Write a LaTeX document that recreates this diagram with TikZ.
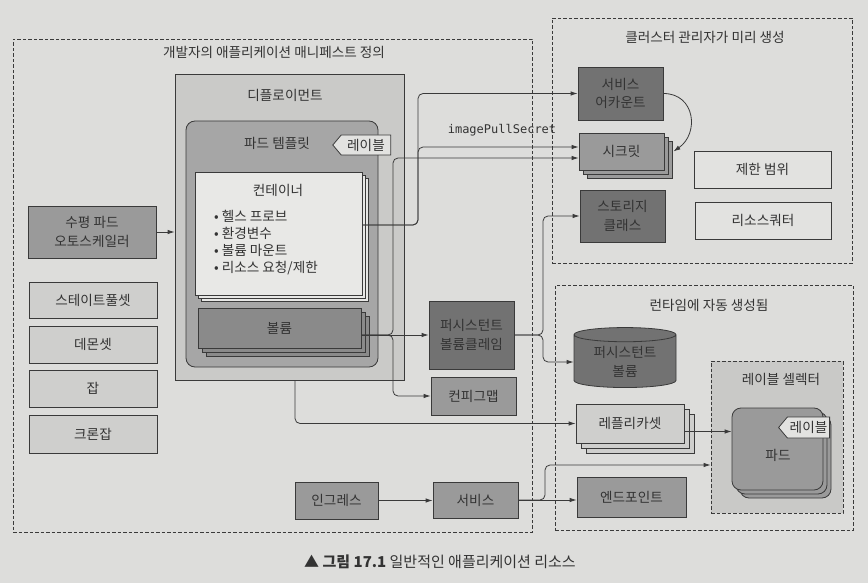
\documentclass[tikz,border=0pt]{standalone}
\usepackage{fontspec}
\setmainfont{Noto Sans CJK KR}
\newfontfamily\monof{DejaVu Sans Mono}
\usetikzlibrary{shapes.geometric,shapes.symbols,shadows,arrows.meta}
\definecolor{bg}{HTML}{DDDDDB}
\definecolor{ln}{HTML}{3A3A3A}
\definecolor{tx}{HTML}{333333}
\definecolor{dark}{HTML}{727272}
\definecolor{mid}{HTML}{9A9A9A}
\definecolor{light}{HTML}{CFCFCD}
\definecolor{pale}{HTML}{E8E8E6}
\definecolor{depc}{HTML}{CACAC8}
\definecolor{tplc}{HTML}{A6A6A6}
\definecolor{volc}{HTML}{8A8A8A}
\definecolor{selc}{HTML}{C9C9C7}
\definecolor{tagc}{HTML}{E2E2E0}
\tikzset{
  sz/.style 2 args={minimum width=#1pt, minimum height=#2pt},
  box/.style={draw=ln, line width=0.8pt, inner sep=1pt, align=center, text=tx, font=\fontsize{13.6}{18.5}\selectfont},
  grp/.style={draw=ln, line width=0.8pt, dash pattern=on 3.5pt off 2pt, inner sep=0pt},
  stack/.style={double copy shadow={shadow xshift=#1pt, shadow yshift=-#1pt}},
  tag/.style={shape=signal, signal to=west, signal pointer angle=100, draw=ln, line width=0.8pt, fill=tagc, inner sep=1pt, text=tx},
  lbl/.style={text=tx, inner sep=0pt},
  arr/.style={draw=ln, line width=0.8pt, rounded corners=5pt, -{Latex[length=7pt,width=4.5pt]}}
}
\begin{document}
\begin{tikzpicture}[x=1pt,y=-1pt, font=\fontsize{13.6}{15.5}\selectfont]
\useasboundingbox (0,0) rectangle (868,583);
\fill[bg] (0,0) rectangle (868,583);

% group boxes
\node[grp, sz={519}{493}] (devbox) at (272.5,285.5) {};
\node[lbl] (devtitle) at (274,52) {개발자의 애플리케이션 매니페스트 정의};
\node[grp, sz={300}{245}] (admbox) at (702,140.5) {};
\node[lbl] (admtitle) at (705,37) {클러스터 관리자가 미리 생성};
\node[grp, sz={298}{245}] (rtbox) at (704,407.5) {};
\node[lbl] (rttitle) at (709,305) {런타임에 자동 생성됨};

% deployment
\node[box, fill=depc, sz={229}{306}] (dep) at (289.5,227) {};
\node[lbl] (deptitle) at (285,95) {디플로이먼트};
\node[box, fill=tplc, rounded corners=9pt, sz={192}{246}] (tpl) at (282,244) {};
\node[lbl] (tpltitle) at (277,143) {파드 템플릿};
\node[tag, sz={58}{20}] (tag1) at (366,145) {레이블};
\node[box, fill=pale, stack=3.2, sz={167}{123}] (cont) at (278.5,233.5) {};
\node[lbl] (conttitle) at (278,190) {컨테이너};
\node[lbl, anchor=north west, align=left, font=\fontsize{13.6}{17}\selectfont] (bul) at (214,210)
  {• 헬스 프로브\\• 환경변수\\• 볼륨 마운트\\• 리소스 요청/제한};
\node[box, fill=volc, stack=4.2, sz={163}{40}] (vol) at (279.5,328) {볼륨};

% left column
\node[box, fill=mid, sz={128}{52}] (hpa) at (92,232) {수평 파드\\오토스케일러};
\node[box, fill=light, sz={128}{36}] (sts) at (93,300) {스테이트풀셋};
\node[box, fill=light, sz={128}{37}] (ds) at (93,344.5) {데몬셋};
\node[box, fill=light, sz={128}{37}] (job) at (93,388.5) {잡};
\node[box, fill=light, sz={128}{38}] (cj) at (93,434) {크론잡};

% middle
\node[box, fill=dark, sz={85}{68}] (pvc) at (471.5,335) {퍼시스턴트\\볼륨클레임};
\node[box, fill=mid, sz={85}{38}] (cm) at (473.5,396) {컨피그맵};
\node[box, fill=mid, sz={83}{37}] (ing) at (336.5,500.5) {인그레스};
\node[box, fill=mid, sz={85}{36}] (svc) at (475.5,500) {서비스};

% admin area
\node[box, fill=dark, sz={85}{53}] (sa) at (620.5,93.5) {서비스\\어카운트};
\node[box, fill=mid, stack=4, sz={85}{37}] (sec) at (621.5,151.5) {시크릿};
\node[box, fill=dark, sz={85}{52}] (sc) at (622.5,216) {스토리지\\클래스};
\node[box, fill=tagc, sz={137}{37}] (lr) at (762.5,169.5) {제한 범위};
\node[box, fill=tagc, sz={136}{37}] (rq) at (763,220.5) {리소스쿼터};

% runtime area
\node[box, fill=dark, cylinder, shape border rotate=90, aspect=0.22, sz={102}{60}] (pv) at (625,362) {퍼시스턴트\\볼륨};
\node[box, fill=light, stack=5, sz={108}{39}] (rs) at (630,423.5) {레플리카셋};
\node[box, fill=mid, sz={109}{40}] (ep) at (631.5,497) {엔드포인트};
\node[grp, fill=selc, sz={132}{152}] (sel) at (777,437) {};
\node[lbl] (seltitle) at (781,379) {레이블 셀렉터};
\node[box, fill=mid, rounded corners=9pt, stack=4, sz={91}{82}] (pod) at (777.5,449) {};
\node[lbl] (podtext) at (778,455) {파드};
\node[tag, sz={51}{21}] (tag2) at (808.5,427.5) {레이블};

% connectors
\coordinate (j1) at (418,225);
\coordinate (j2) at (393,335);
\coordinate (j3) at (543,335);
\coordinate (j4) at (295,423.5);
\coordinate (j5) at (545,500);
\coordinate (s1) at ([yshift=4.5pt]sec.west);
\coordinate (s2) at ([yshift=-6.5pt]sec.west);
\coordinate (selin) at ([yshift=-28pt]sel.west);
\coordinate (r1) at ([yshift=-8pt]rs.east);
\coordinate (secend) at ([xshift=9pt]sec.east);

\draw[arr] (hpa.east) -- (hpa.east -| dep.west);
\draw[arr] (cont.east |- j1) -- (j1) -- (j1 |- sa.west) -- (sa.west);
\draw[arr] (cont.east |- j1) -- (j1) -- (j1 |- s1) -- (s1);
\draw[arr] (vol.east |- j2) -- (j2) -- (j2 |- s2) -- (s2);
\draw[arr] (vol.east |- j2) -- (j2) -- (j2 |- cm.west) -- (cm.west);
\draw[arr] (vol.east |- j2) -- (pvc.west |- j2);
\draw[arr] (pvc.east |- j3) -- (j3) -- (j3 |- sc.west) -- (sc.west);
\draw[arr] (pvc.east |- j3) -- (j3) -- (j3 |- pv.west) -- (pv.west);
\draw[arr] (dep.south -| j4) -- (j4) -- (j4 -| rs.west);
\draw[arr] (ing.east) -- (ing.east -| svc.west);
\draw[arr] (svc.east) -- (svc.east -| ep.west);
\draw[arr] (svc.east) -- (j5) -- (j5 |- selin) -- (selin);
\draw[arr] (r1) -- (r1 -| pod.west);
\draw[arr] (sa.east) .. controls +(32,0) and +(26,-18) .. (secend);
\node[lbl, font=\monof\fontsize{12}{14}\selectfont] (ips) at (502,130) {imagePullSecret};

% caption
\node[lbl, font=\fontsize{15}{17}\selectfont] (cap) at (440,562) {▲ \textbf{그림 17.1} 일반적인 애플리케이션 리소스};
\end{tikzpicture}
\end{document}
